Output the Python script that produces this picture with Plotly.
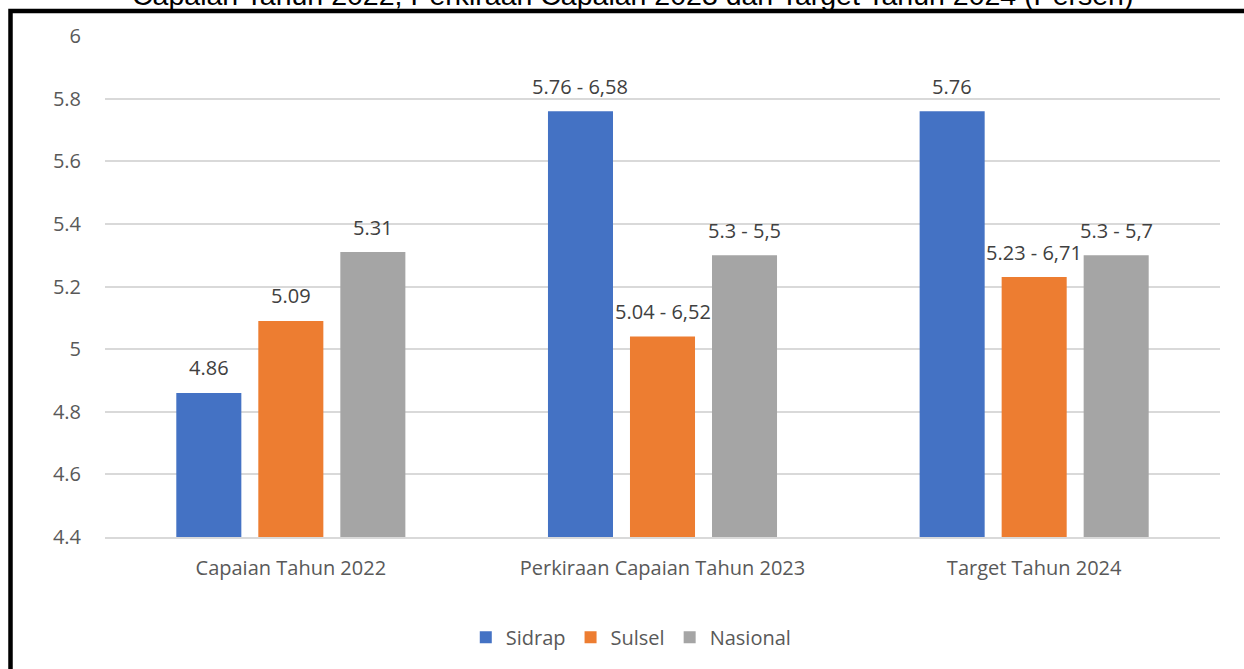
import plotly.graph_objects as go

categories = ["Capaian Tahun 2022", "Perkiraan Capaian Tahun 2023", "Target Tahun 2024"]
series_names = ["Sidrap", "Sulsel", "Nasional"]
sidrap = [4.86, 5.76, 5.76]
sulsel = [5.09, 5.04, 5.23]
nasional = [5.31, 5.30, 5.30]
sidrap_labels = ["4.86", "5.76 - 6,58", "5.76"]
sulsel_labels = ["5.09", "5.04 - 6,52", "5.23 - 6,71"]
nasional_labels = ["5.31", "5.3 - 5,5", "5.3 - 5,7"]
colors = ["#4472C4", "#ED7D31", "#A5A5A5"]
y_ticks = [4.4, 4.6, 4.8, 5.0, 5.2, 5.4, 5.6, 5.8, 6.0]
y_tick_text = ["4.4", "4.6", "4.8", "5", "5.2", "5.4", "5.6", "5.8", "6"]
title_text = "Capaian Tahun 2022, Perkiraan Capaian 2023 dan Target Tahun 2024 (Persen)"

W, H = 1244, 669
ML, MR, MT, MB = 105, 24, 36, 132
FONT = "Open Sans"
TXT = "#595959"

fig = go.Figure()
values = [sidrap, sulsel, nasional]
labels = [sidrap_labels, sulsel_labels, nasional_labels]
for name, vals, col in zip(series_names, values, colors):
    fig.add_trace(go.Bar(x=categories, y=vals, name=name, marker_color=col,
                         marker_line_width=0))

plot_w = W - ML - MR
plot_h = H - MT - MB
cat_w = plot_w / len(categories)
bargap = 0.338
group_w = cat_w * (1 - bargap)
slot = group_w / len(series_names)
annotations = []
for si, (vals, labs) in enumerate(zip(values, labels)):
    xshift = (si - (len(series_names) - 1) / 2) * slot
    for ci, cat in enumerate(categories):
        annotations.append(dict(x=cat, y=vals[ci], xref="x", yref="y", text=labs[ci],
                                showarrow=False, xshift=xshift, yshift=25,
                                yanchor="middle", font=dict(family=FONT, size=20, color="#404040")))

# chart title (partly cut off at the top edge, as in the source)
annotations.append(dict(x=(632 - ML) / plot_w, y=1 + (MT + 4.5) / plot_h, xref="paper", yref="paper",
                        text=title_text, showarrow=False, xanchor="center", yanchor="middle",
                        font=dict(family="Liberation Sans", size=28.5, color="black")))

fig.update_layout(
    width=W, height=H,
    margin=dict(l=ML, r=MR, t=MT, b=MB),
    paper_bgcolor="white", plot_bgcolor="white",
    barmode="group", bargap=bargap, bargroupgap=0.207,
    font=dict(family=FONT, color=TXT),
    xaxis=dict(showgrid=False, showline=True, linecolor="#D9D9D9", linewidth=1.5,
               ticks="", tickfont=dict(size=20, color=TXT), ticklabelstandoff=12),
    yaxis=dict(range=[4.4, 6.0], tickvals=y_ticks, ticktext=y_tick_text,
               showgrid=True, gridcolor="#D9D9D9", gridwidth=1.5, zeroline=False,
               tickfont=dict(size=20, color=TXT), ticklabelstandoff=23, showline=False),
    legend=dict(orientation="h", x=0.472, xanchor="center", y=-0.2, yanchor="middle",
                font=dict(size=20, color=TXT), itemwidth=30, traceorder="normal"),
    annotations=annotations,
    shapes=[dict(type="rect", xref="paper", yref="paper",
                 x0=(10.5 - ML) / plot_w, x1=(W + 20 - ML) / plot_w,
                 y0=1 - (H + 20 - MT) / plot_h, y1=1 + (MT - 11) / plot_h,
                 line=dict(color="black", width=4.5), fillcolor="rgba(0,0,0,0)", layer="above")],
)

fig.write_html("out.html", config={"displayModeBar": False},
               post_script="document.body.style.margin='0';document.body.style.overflow='hidden';")
